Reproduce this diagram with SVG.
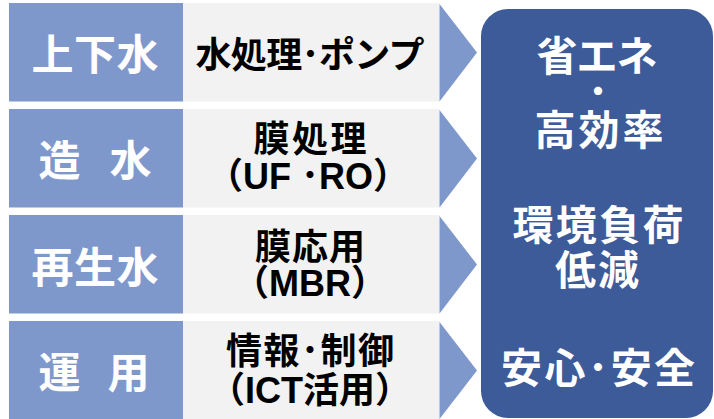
<svg xmlns="http://www.w3.org/2000/svg" width="714" height="419" viewBox="0 0 714 419">
<style>
.cat{fill:#7F98CC}
.mid{fill:#F2F2F2}
.arr{fill:#7F98CC}
.goal{fill:#3D5A99}
text{font-family:"Noto Sans CJK JP","Liberation Sans",sans-serif;font-weight:bold;text-anchor:middle}
.w{fill:#FFFFFF;font-size:42px}
.b{fill:#000000;font-size:36px}
.l{font-family:"Liberation Sans","Noto Sans CJK JP",sans-serif}
.g{fill:#FFFFFF;font-size:41px}
.dot{fill:#FFFFFF;font-size:32px}
</style>
<rect width="714" height="419" fill="#FFFFFF"/>
<g id="row1">
<rect class="cat" x="9" y="3" width="174" height="98.5"/>
<text class="w" x="95" y="70" textLength="127" lengthAdjust="spacing">上下水</text>
<rect class="mid" x="183" y="3" width="256.5" height="98.5"/>
<text class="b" x="310" y="67.5" textLength="229" lengthAdjust="spacing">水処理･ポンプ</text>
</g>
<g id="row2">
<rect class="cat" x="9" y="109" width="174" height="98.5"/>
<text class="w" x="95" y="176" textLength="113" lengthAdjust="spacing">造　水</text>
<rect class="mid" x="183" y="109" width="256.5" height="98.5"/>
<text class="b" x="310" y="152" textLength="113" lengthAdjust="spacing">膜処理</text>
<text class="b l" x="308" y="188.5">（UF ･RO）</text>
</g>
<g id="row3">
<rect class="cat" x="9" y="215" width="174" height="98.5"/>
<text class="w" x="95" y="283" textLength="127" lengthAdjust="spacing">再生水</text>
<rect class="mid" x="183" y="215" width="256.5" height="98.5"/>
<text class="b" x="310" y="260" textLength="110" lengthAdjust="spacing">膜応用</text>
<text class="b l" x="310" y="295.5">（MBR）</text>
</g>
<g id="row4">
<rect class="cat" x="9" y="321" width="174" height="98"/>
<text class="w" x="94" y="388" textLength="111" lengthAdjust="spacing">運　用</text>
<rect class="mid" x="183" y="321" width="256.5" height="98"/>
<text class="b" x="310" y="364" textLength="168" lengthAdjust="spacing">情報･制御</text>
<text class="b l" x="310" y="402.5">（ICT活用）</text>
</g>
<g id="connectors">
<polygon class="arr" points="439.5,4 477,52.5 439.5,101.5"/>
<polygon class="arr" points="439.5,110 477,158.5 439.5,207.5"/>
<polygon class="arr" points="439.5,216 477,264.5 439.5,313.5"/>
<polygon class="arr" points="439.5,322 477,370.5 439.5,419"/>
</g>
<g id="goal">
<rect class="goal" x="481" y="9" width="232" height="409" rx="27" ry="27"/>
<text class="g" x="597" y="70.5" textLength="121" lengthAdjust="spacing">省エネ</text>
<text class="dot" x="598" y="103">・</text>
<text class="g" x="599" y="144.5" textLength="129" lengthAdjust="spacing">高効率</text>
<text class="g" x="598" y="240" textLength="171" lengthAdjust="spacing">環境負荷</text>
<text class="g" x="597" y="284.5" textLength="84" lengthAdjust="spacing">低減</text>
<text class="g" x="598" y="382.5" textLength="194" lengthAdjust="spacing">安心･安全</text>
</g>
</svg>
